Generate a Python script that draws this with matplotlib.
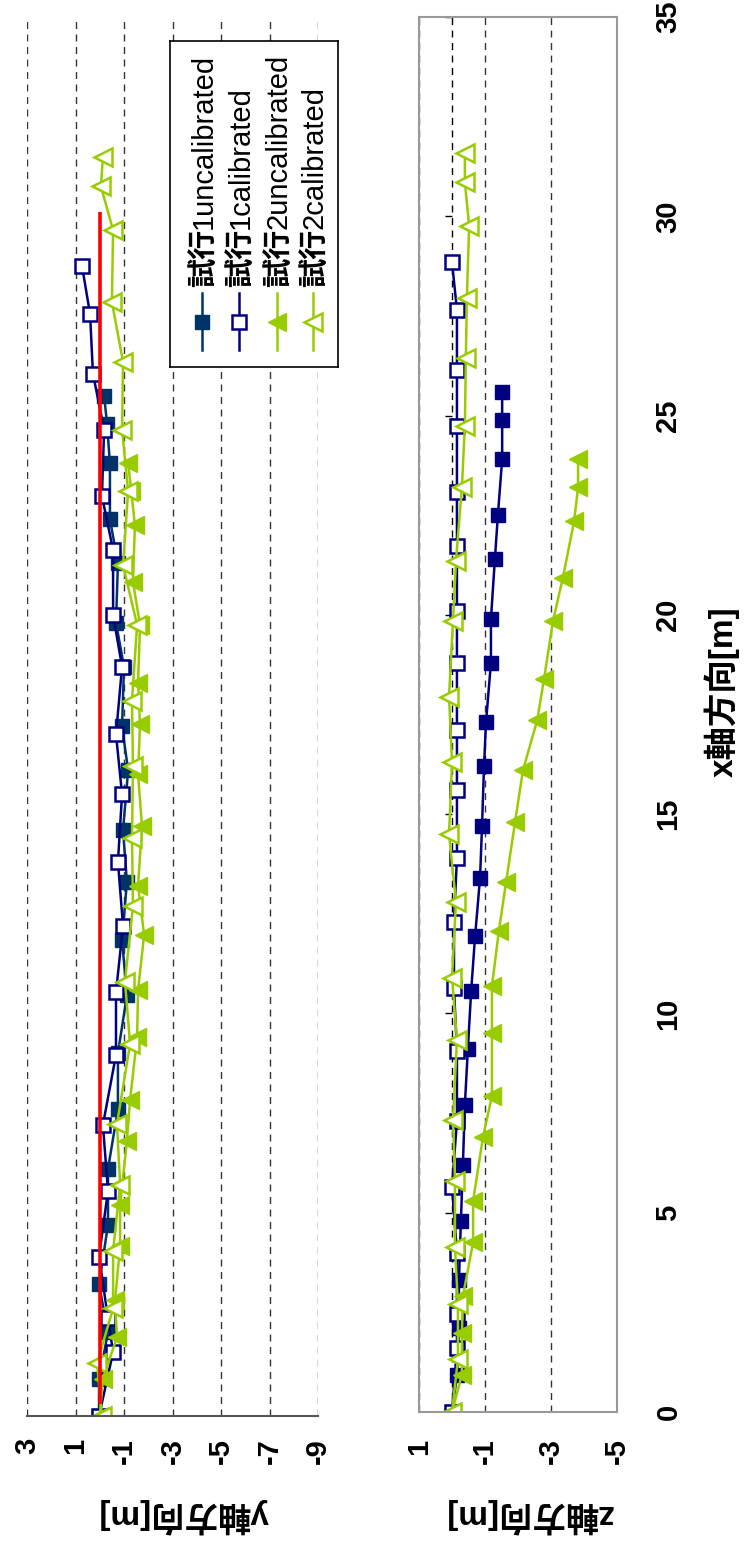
import matplotlib
matplotlib.use('Agg')
import matplotlib.pyplot as plt
from matplotlib.transforms import offset_copy

plt.rcParams['font.family'] = ['Liberation Sans', 'Noto Sans CJK JP']

# ---- data (x = distance along x axis [m]) ----
s1u_x = [0, 0.93, 2.1, 3.3, 4.8, 6.2, 7.7, 9.1, 10.56, 11.94, 13.4, 14.7, 16.2,
         17.3, 18.8, 19.9, 21.4, 22.5, 23.9, 24.9, 25.6]
s1u_y = [0.03, 0.03, -0.34, 0.03, -0.34, -0.34, -0.75, -0.75, -1.12, -0.92, -1.12,
         -0.96, -1.17, -0.92, -1.0, -0.67, -0.75, -0.42, -0.42, -0.3, -0.18]
s1u_z = [0, -0.15, -0.21, -0.21, -0.27, -0.33, -0.39, -0.48, -0.58, -0.70, -0.85,
         -0.91, -0.97, -1.03, -1.18, -1.18, -1.30, -1.39, -1.52, -1.52, -1.52]

s1c_x = [0, 1.6, 2.45, 4.0, 5.65, 7.3, 9.06, 10.63, 12.3, 13.9, 15.6, 17.1, 18.8,
         20.1, 21.73, 23.08, 24.75, 26.15, 27.65, 28.85]
s1c_y = [0.03, -0.55, -0.34, 0.03, -0.34, -0.13, -0.67, -0.67, -0.96, -0.75, -0.92,
         -0.67, -0.92, -0.55, -0.55, -0.09, -0.18, 0.28, 0.40, 0.73]
s1c_z = [0, -0.15, -0.15, -0.15, 0.0, -0.15, -0.15, -0.06, -0.06, -0.15, -0.15,
         -0.15, -0.15, -0.15, -0.15, -0.15, -0.15, -0.15, -0.15, 0.0]

s2u_x = [0, 0.94, 1.97, 2.9, 4.26, 5.3, 6.9, 7.93, 9.5, 10.68, 12.07, 13.3, 14.8,
         16.1, 17.35, 18.4, 19.85, 20.93, 22.35, 23.2, 23.9]
s2u_y = [0, -0.13, -0.71, -0.63, -0.84, -0.84, -1.12, -1.25, -1.54, -1.58, -1.83,
         -1.58, -1.74, -1.58, -1.66, -1.58, -1.66, -1.37, -1.45, -1.3, -1.17]
s2u_z = [0, -0.30, -0.30, -0.33, -0.64, -0.64, -0.94, -1.21, -1.21, -1.21, -1.42,
         -1.64, -1.91, -2.15, -2.58, -2.79, -3.06, -3.36, -3.70, -3.82, -3.82]

s2c_x = [0, 1.33, 2.7, 4.15, 5.8, 7.33, 9.33, 10.9, 12.8, 14.5, 16.3, 17.95, 19.85,
         21.35, 23.2, 24.75, 26.45, 27.95, 29.75, 30.85, 31.6]
s2c_y = [-0.09, 0.11, -0.55, -0.55, -0.84, -0.71, -1.25, -1.04, -1.37, -1.33, -1.37,
         -1.33, -1.54, -0.96, -1.17, -0.92, -0.96, -0.50, -0.55, -0.05, -0.13]
s2c_z = [0, -0.18, -0.18, -0.09, -0.09, -0.03, -0.15, 0.0, -0.12, 0.09, 0.0, 0.09,
         -0.03, -0.12, -0.30, -0.39, -0.42, -0.45, -0.52, -0.39, -0.39]

ref_x = [0.3, 30.2]   # red reference line (y = 0)
ref_y = [0, 0]

names = ['1uncalibrated', '1calibrated', '2uncalibrated', '2calibrated']
y_ticks = [3, 1, -1, -3, -5, -7, -9]
z_ticks = [1, -1, -3, -5]
x_ticks = [0, 5, 10, 15, 20, 25, 30, 35]

# ---- styles ----
NAVY = '#000080'
DNAVY = '#003366'
GREEN = '#99CC00'
W, H = 752, 1543


def box(x0, y0, x1, y1):
    return [x0 / W, 1 - y1 / H, (x1 - x0) / W, (y1 - y0) / H]


fig = plt.figure(figsize=(W / 100, H / 100), dpi=100)
dash = (0, (5, 4))
LW = 1.8
styles = [dict(color=DNAVY, marker='s', ms=10, mfc=DNAVY, mec=DNAVY),
          dict(color=NAVY, marker='s', ms=9.5, mfc='white', mec=NAVY, mew=1.8),
          dict(color=GREEN, marker='<', ms=13, mfc=GREEN, mec=GREEN),
          dict(color=GREEN, marker='<', ms=13, mfc='white', mec=GREEN, mew=1.8)]
styles_z = [dict(styles[0], color=NAVY, mfc=NAVY, mec=NAVY)] + styles[1:]

# ---- y panel (left) ----
ax1 = fig.add_axes(box(27, 21, 318, 1416))
for (xs, vs), st in zip([(s1u_x, s1u_y), (s1c_x, s1c_y), (s2u_x, s2u_y), (s2c_x, s2c_y)], styles):
    ax1.plot(vs, xs, lw=LW, **st)
ax1.plot(ref_y, ref_x, color='#FF0000', lw=2.6, solid_capstyle='butt')
ax1.set_xlim(3, -9)
ax1.set_ylim(0, 35)
ax1.set_xticks(y_ticks)
ax1.set_xticklabels([str(t) for t in y_ticks], rotation=90, fontsize=21, fontweight='bold')
ax1.set_yticks([])
ax1.tick_params(axis='x', length=0, pad=16)
ax1.set_axisbelow(True)
ax1.grid(axis='x', color='#333333', linestyle=dash, linewidth=1)
for s in ['top', 'left', 'right']:
    ax1.spines[s].set_visible(False)
ax1.spines['bottom'].set_color('#555555')
ax1.spines['bottom'].set_linewidth(1.5)

# ---- z panel (right) ----
ax2 = fig.add_axes(box(419, 17, 617, 1412))
ax2.axvline(0, color='black', linestyle=dash, lw=1, zorder=1)
ax2.hlines(x_ticks, 0, 0.21, color='black', lw=1, zorder=1)
for (xs, vs), st in zip([(s1u_x, s1u_z), (s1c_x, s1c_z), (s2u_x, s2u_z), (s2c_x, s2c_z)], styles_z):
    ax2.plot(vs, xs, lw=LW, **st)
ax2.set_xlim(1, -5)
ax2.set_ylim(0, 35)
ax2.set_xticks(z_ticks)
ax2.set_xticklabels([str(t) for t in z_ticks], rotation=90, fontsize=21, fontweight='bold')
ax2.yaxis.tick_right()
ax2.set_yticks(x_ticks)
ax2.set_yticklabels([str(t) for t in x_ticks], rotation=90, fontsize=21, fontweight='bold',
                    va='center')
ax2.tick_params(axis='x', length=0, pad=19)
ax2.tick_params(axis='y', length=0, pad=27)
ax2.set_axisbelow(True)
ax2.grid(axis='x', color='#333333', linestyle=dash, linewidth=1)
for s in ax2.spines.values():
    s.set_color('#999999')
    s.set_linewidth(1.5)

# ---- axis titles ----
fig.text(183 / W, 1 - 1516 / H, 'y軸方向[m]', rotation=180, ha='center', va='center',
         fontsize=24, fontweight='bold')
fig.text(528 / W, 1 - 1516 / H, 'z軸方向[m]', rotation=180, ha='center', va='center',
         fontsize=24, fontweight='bold')
fig.text(722 / W, 1 - 692 / H, 'x軸方向[m]', rotation=90, ha='center', va='center',
         fontsize=24, fontweight='bold')

# ---- legend (drawn by hand, rotated) ----
lg = fig.add_axes(box(170, 41, 338, 367))
lg.set_xlim(0, 168)
lg.set_ylim(326, 0)
lg.set_xticks([])
lg.set_yticks([])
for s in lg.spines.values():
    s.set_color('black')
    s.set_linewidth(1.2)
lx = [32, 69, 107, 143]
fs = 21
for i, name in enumerate(names):
    st = styles[i]
    lg.plot([lx[i], lx[i]], [252, 309], color=st['color'], lw=LW)
    lg.plot([lx[i]], [281], lw=0, **st)
    lg.text(lx[i] + 10, 246, '試行', rotation=90, rotation_mode='anchor', ha='left',
            va='baseline', fontsize=fs, fontweight='bold', family='Noto Sans CJK JP')
    tr = offset_copy(lg.transData, fig=fig, x=0, y=2 * fs, units='points')
    lg.text(lx[i] + 10, 246, name, rotation=90, rotation_mode='anchor', ha='left',
            va='baseline', fontsize=fs, transform=tr)

fig.savefig('out.png', dpi=100)
